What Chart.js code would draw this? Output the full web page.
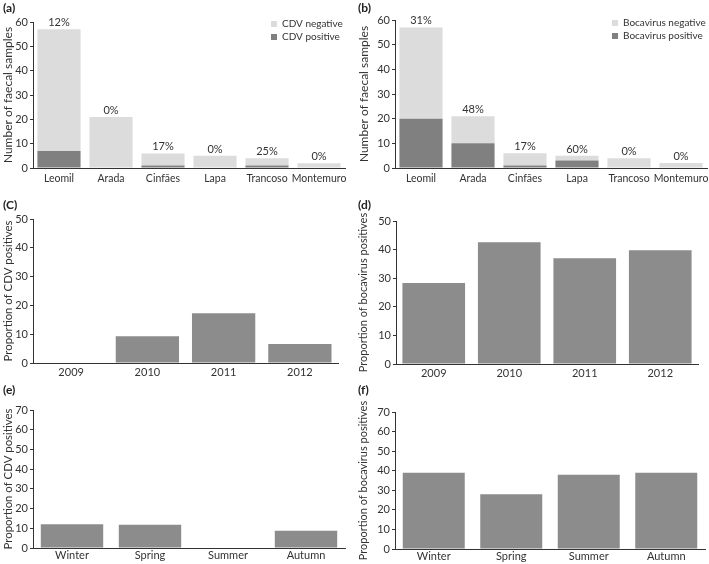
<!DOCTYPE html>
<html>
<head>
<meta charset="utf-8">
<script src="https://cdn.jsdelivr.net/npm/chart.js@4.4.0/dist/chart.umd.min.js"></script>
<style>
  body { margin: 0; background: #fff; }
  #wrap { position: relative; width: 709px; height: 564px; overflow: hidden; font-family: Lato, sans-serif; }
  .box { position: absolute; }
  .tag { position: absolute; font: bold 12px Lato, sans-serif; color: #222; }
</style>
</head>
<body>
<div id="wrap">
  <div class="box" style="left:0;top:0;width:355px;height:190px"><canvas id="chA"></canvas></div>
  <div class="box" style="left:355px;top:0;width:354px;height:190px"><canvas id="chB"></canvas></div>
  <div class="box" style="left:0;top:190px;width:355px;height:190px"><canvas id="chC"></canvas></div>
  <div class="box" style="left:355px;top:190px;width:354px;height:190px"><canvas id="chD"></canvas></div>
  <div class="box" style="left:0;top:375px;width:355px;height:189px"><canvas id="chE"></canvas></div>
  <div class="box" style="left:355px;top:375px;width:354px;height:189px"><canvas id="chF"></canvas></div>
  <div class="tag" style="left:3px;top:0px">(a)</div>
  <div class="tag" style="left:358px;top:0px">(b)</div>
  <div class="tag" style="left:3px;top:197px">(C)</div>
  <div class="tag" style="left:358px;top:197px">(d)</div>
  <div class="tag" style="left:3px;top:382px">(e)</div>
  <div class="tag" style="left:358px;top:382px">(f)</div>
</div>
<script>
var sites = ['Leomil', 'Arada', 'Cinfães', 'Lapa', 'Trancoso', 'Montemuro'];
var cdvPositive = [7, 0, 1, 0, 1, 0];
var cdvNegative = [50, 21, 5, 5, 3, 2];
var cdvPercent = ['12%', '0%', '17%', '0%', '25%', '0%'];
var bocaPositive = [20, 10, 1, 3, 0, 0];
var bocaNegative = [37, 11, 5, 2, 4, 2];
var bocaPercent = ['31%', '48%', '17%', '60%', '0%', '0%'];

var years = ['2009', '2010', '2011', '2012'];
var cdvByYear = [0, 9.3, 17.3, 6.6];
var bocaByYear = [28.3, 42.6, 37, 39.8];

var seasons = ['Winter', 'Spring', 'Summer', 'Autumn'];
var cdvBySeason = [12, 11.8, 0, 8.7];
var bocaBySeason = [39, 28, 38, 39];

var LIGHT = '#dcdcdc';
var DARK = '#808080';
var MID = '#8c8c8c';
var INK = '#333';
var FONT = 'Lato, sans-serif';

// percent labels on top of the stacked bars
var topLabels = {
    id: 'topLabels',
    afterDatasetsDraw: function (chart, args, opts) {
        if (!opts.labels) return;
        var ctx = chart.ctx;
        var meta = chart.getDatasetMeta(chart.data.datasets.length - 1);
        ctx.save();
        ctx.font = '11px ' + FONT;
        ctx.fillStyle = INK;
        ctx.textAlign = 'center';
        ctx.textBaseline = 'bottom';
        meta.data.forEach(function (bar, i) {
            ctx.fillText(opts.labels[i], bar.x, bar.y - 1);
        });
        ctx.restore();
    }
};

// small legend drawn inside the plot area
var innerLegend = {
    id: 'innerLegend',
    afterDraw: function (chart, args, opts) {
        if (opts.x === undefined) return;
        var ctx = chart.ctx;
        var sets = chart.data.datasets.slice().reverse();
        ctx.save();
        ctx.font = '10px ' + FONT;
        ctx.textBaseline = 'middle';
        sets.forEach(function (ds, i) {
            var y = opts.y + i * 13;
            ctx.fillStyle = ds.backgroundColor;
            ctx.fillRect(opts.x, y - 3, 6, 6);
            ctx.fillStyle = INK;
            ctx.fillText(ds.label, opts.x + 11, y);
        });
        ctx.restore();
    }
};

function makeChart(id, cfg) {
    var datasets = cfg.series.map(function (s) {
        return {
            label: s.label,
            data: s.data,
            backgroundColor: s.color,
            borderWidth: 0,
            barPercentage: cfg.barPct,
            categoryPercentage: 1
        };
    });
    return new Chart(document.getElementById(id), {
        type: 'bar',
        data: { labels: cfg.labels, datasets: datasets },
        plugins: [topLabels, innerLegend],
        options: {
            responsive: true,
            maintainAspectRatio: false,
            animation: false,
            layout: { padding: { top: cfg.pad[0], right: cfg.pad[1], left: 0, bottom: 0 } },
            plugins: {
                legend: { display: false },
                tooltip: { enabled: false },
                topLabels: { labels: cfg.pct },
                innerLegend: cfg.legend || {}
            },
            scales: {
                x: {
                    stacked: true,
                    grid: { display: false, drawTicks: false },
                    border: { display: true, color: INK, width: 1 },
                    ticks: { color: INK, font: { family: FONT, size: cfg.xsize || 11 }, padding: cfg.xpad, maxRotation: 0, autoSkip: false },
                    afterFit: function (scale) {
                        scale.height = cfg.xh;
                        scale.paddingLeft = 0;
                        scale.paddingRight = 0;
                    }
                },
                y: {
                    stacked: true,
                    min: 0,
                    max: cfg.max,
                    ticks: { stepSize: 10, color: INK, font: { family: FONT, size: 11 }, padding: 2 },
                    grid: { drawOnChartArea: false, drawTicks: true, tickLength: 3, color: INK },
                    border: { display: true, color: INK, width: 1 },
                    title: {
                        display: true,
                        text: cfg.ytitle,
                        color: INK,
                        font: { family: FONT, size: cfg.tsize },
                        padding: { top: cfg.tpad, bottom: 0 }
                    },
                    afterFit: function (scale) { scale.width = cfg.yw; }
                }
            }
        }
    });
}

makeChart('chA', {
    labels: sites,
    series: [
        { label: 'CDV positive', data: cdvPositive, color: DARK },
        { label: 'CDV negative', data: cdvNegative, color: LIGHT }
    ],
    pct: cdvPercent,
    legend: { x: 271, y: 24 },
    max: 60, barPct: 0.83, ytitle: 'Number of faecal samples', tsize: 12,
    pad: [22, 10], xh: 22, yw: 33, tpad: 1, xpad: 4, xsize: 10.5
});

makeChart('chB', {
    labels: sites,
    series: [
        { label: 'Bocavirus positive', data: bocaPositive, color: DARK },
        { label: 'Bocavirus negative', data: bocaNegative, color: LIGHT }
    ],
    pct: bocaPercent,
    legend: { x: 257, y: 23 },
    max: 60, barPct: 0.83, ytitle: 'Number of faecal samples', tsize: 12,
    pad: [20, 2], xh: 22, yw: 40, tpad: 2, xpad: 4, xsize: 10.5
});

makeChart('chC', {
    labels: years,
    series: [{ label: 'CDV', data: cdvByYear, color: MID }],
    max: 50, barPct: 0.83, ytitle: 'Proportion of CDV positives', tsize: 11.4,
    pad: [29, 17], xh: 17, yw: 33, tpad: 1, xpad: 3
});

makeChart('chD', {
    labels: years,
    series: [{ label: 'Bocavirus', data: bocaByYear, color: MID }],
    max: 50, barPct: 0.83, ytitle: 'Proportion of bocavirus positives', tsize: 11,
    pad: [31, 11], xh: 16, yw: 41, tpad: 2, xpad: 3
});

makeChart('chE', {
    labels: seasons,
    series: [{ label: 'CDV', data: cdvBySeason, color: MID }],
    max: 70, barPct: 0.8, ytitle: 'Proportion of CDV positives', tsize: 11.4,
    pad: [35, 10], xh: 16, yw: 33, tpad: 1, xpad: 1
});

makeChart('chF', {
    labels: seasons,
    series: [{ label: 'Bocavirus', data: bocaBySeason, color: MID }],
    max: 70, barPct: 0.8, ytitle: 'Proportion of bocavirus positives', tsize: 11,
    pad: [37, 4], xh: 15, yw: 40, tpad: 2, xpad: 1
});
</script>
</body>
</html>
